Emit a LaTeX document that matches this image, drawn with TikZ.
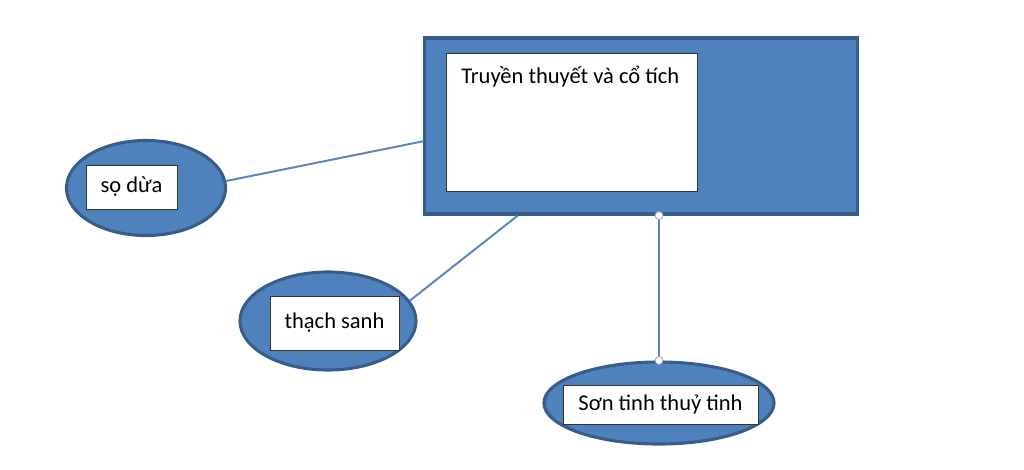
\documentclass[tikz,border=0pt]{standalone}
\usepackage{fontspec}
\setmainfont{Carlito}
\usetikzlibrary{shapes.geometric, positioning}
\definecolor{boxblue}{HTML}{4F81BD}
\definecolor{boxedge}{HTML}{385D8A}
\definecolor{linkblue}{HTML}{5A86BC}

\begin{document}
\begin{tikzpicture}[x=0.025cm,y=-0.025cm,
    topic/.style={rectangle,draw=boxedge,fill=boxblue,line width=2.2pt,inner sep=0pt},
    bubble/.style={ellipse,draw=boxedge,fill=boxblue,line width=2.2pt,inner sep=0pt},
    textbox/.style={rectangle,draw=black!80,fill=white,line width=0.6pt,inner sep=0pt,font=\fontsize{16}{19}\selectfont},
    link/.style={linkblue,line width=1.4pt},
    handle/.style={circle,draw=gray!70,fill=blue!4,line width=0.6pt,inner sep=0pt,minimum size=0.2cm}]
        \useasboundingbox (0,0) rectangle (1024,469);
        % main topic
        \node[topic,minimum width=10.8cm,minimum height=4.4cm](main) at (641,126){};
        \node[textbox,minimum width=6.275cm,minimum height=3.45cm](main_box) at (571.5,122){};
        \node[anchor=base west,inner sep=0pt,font=\fontsize{16}{19}\selectfont](title) at (461,83){Truyền thuyết và cổ tích};
        % stories
        \node[bubble,minimum width=3.975cm,minimum height=2.375cm](sodua) at (146,188){};
        \node[textbox,minimum width=2.275cm,minimum height=1.1cm](sodua_box) at (131.5,187){sọ dừa};
        \node[bubble,minimum width=4.4cm,minimum height=2.45cm](thach) at (328,321){};
        \node[textbox,minimum width=3.225cm,minimum height=1.35cm](thach_box) at (334.5,323){thạch sanh};
        \node[bubble,minimum width=5.75cm,minimum height=2.05cm](son) at (659,403){};
        \node[textbox,minimum width=4.875cm,minimum height=0.975cm](son_box) at (660.5,404.5){Sơn tinh thuỷ tinh};
        % connectors
        \path[link](sodua.5)	edge	(main.184)
        		(thach.14)	edge	(main.216)
        		(son.north)	edge	(son.north |- main.south);
        \node[handle](h_top) at (son.north |- main.south){};
        \node[handle](h_bot) at (son.north){};
\end{tikzpicture}
\end{document}
